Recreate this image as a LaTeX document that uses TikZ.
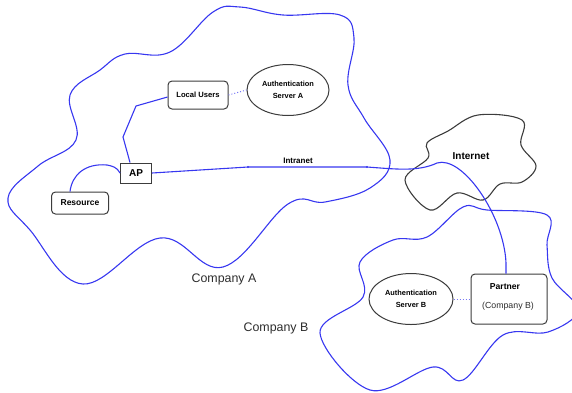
\documentclass[tikz,border=0pt]{standalone}
\usepackage{fontspec}
\setmainfont{Liberation Sans}
\usetikzlibrary{shapes.geometric,calc}
\definecolor{netblue}{RGB}{55,55,240}
\definecolor{dotblue}{RGB}{120,120,245}
\definecolor{boxgray}{RGB}{60,60,60}
\definecolor{txtgray}{RGB}{45,45,45}
\begin{document}
\begin{tikzpicture}[x=1pt,y=-1pt,
  cloudA/.style={draw=netblue,line width=1.1pt},
  cloudI/.style={draw=boxgray,line width=1.1pt},
  netline/.style={draw=netblue,line width=1.1pt},
  dotline/.style={draw=dotblue,line width=1pt,dotted},
  rbox/.style={draw=boxgray,line width=1pt,rounded corners=4pt,inner sep=0pt,fill=white},
  sbox/.style={draw=boxgray,line width=1pt,inner sep=0pt,fill=white},
  oval/.style={ellipse,draw=boxgray,line width=1pt,inner sep=0pt,fill=white,align=center,
     font=\fontsize{7.4}{12}\selectfont\bfseries},
  biglbl/.style={text=txtgray,font=\fontsize{12.4}{14}\selectfont}
]
\useasboundingbox (0,0) rectangle (572,392);

% Company A cloud
\draw[cloudA] plot[smooth cycle, tension=0.65] coordinates {
 (8,198) (38,166) (76,140) (70,95) (100,70) (125,54) (170,52)
 (213,12) (240,7) (283,15) (340,15) (354,38) (348,85) (364,118) (390,160)
 (370,188) (325,202) (288,204) (223,267) (160,238) (83,284) (30,230)};

% Internet cloud
\draw[cloudI] plot[smooth cycle, tension=0.6] coordinates {
 (427,143) (448,131) (478,115) (522,120) (521,145)
 (536,166) (522,182) (500,184) (483,200) (457,193)
 (430,210) (405,180) (428,158)};

% Company B cloud
\begin{scope}
\clip (0,0) rectangle (572,392);
\draw[cloudA] plot[smooth cycle, tension=0.6] coordinates {
 (360,262) (393,240) (427,237) (463,207)
 (487,210) (547,215) (547,245) (552,278) (578,310)
 (548,332) (503,335) (463,380) (433,367)
 (370,390) (320,333) (363,297) };
\end{scope}

% nodes
\node[rbox,minimum width=60pt,minimum height=28pt,font=\fontsize{7.6}{9}\selectfont\bfseries] (lu) at (198,95) {Local Users};
\node[oval,minimum width=82pt,minimum height=51pt] (authA) at (288,90) {Authentication\\Server A};
\node[sbox,minimum width=31pt,minimum height=20pt,font=\fontsize{10}{12}\selectfont\bfseries] (ap) at (136,173) {AP};
\node[rbox,minimum width=57pt,minimum height=22pt,font=\fontsize{8.5}{10}\selectfont\bfseries] (res) at (80,203) {Resource};
\node[oval,minimum width=84pt,minimum height=51pt] (authB) at (411,299) {Authentication\\Server B};
\node[rbox,minimum width=76pt,minimum height=50pt] (partner) at (509,299) {};
\node[font=\fontsize{8.6}{10}\selectfont\bfseries,inner sep=0pt] (ptitle) at (505,287) {Partner};
\node[font=\fontsize{8.8}{10}\selectfont,text=txtgray,inner sep=0pt] (psub) at (508,306) {(Company B)};

\node[font=\fontsize{8}{10}\selectfont\bfseries,inner sep=0pt] (intranet) at (298,161) {Intranet};
\node[font=\fontsize{10}{12}\selectfont\bfseries,inner sep=0pt] (internet) at (471,156) {Internet};
\node[biglbl,inner sep=0pt] (compA) at (224,279) {Company A};
\node[biglbl,inner sep=0pt] (compB) at (276,328) {Company B};

% connectors
\coordinate (i1) at (248,167);
\coordinate (i2) at (367,167);
\draw[netline] (ap.east) -- (i1) -- (i2) .. controls (395,169) and (418,172) .. (437,163)
   .. controls (462,155) and (504,215) .. (506,263) -- ([xshift=-3pt]partner.north);
\fill[netblue] (i1) circle (1.1pt);
\fill[netblue] (i2) circle (1.1pt);

\draw[netline] ([xshift=-6pt]ap.north) -- (123,137) -- (136,106) -- ([yshift=-2pt]lu.west);
\draw[netline] ([xshift=-10pt]res.north) .. controls (72,175) and (85,163) .. (107,165)
   .. controls (112,166) and (117,167) .. (ap.west);

\draw[dotline] (lu.east) -- (authA.west);
\draw[dotline] (authB.east) -- (partner.west);
\end{tikzpicture}
\end{document}
